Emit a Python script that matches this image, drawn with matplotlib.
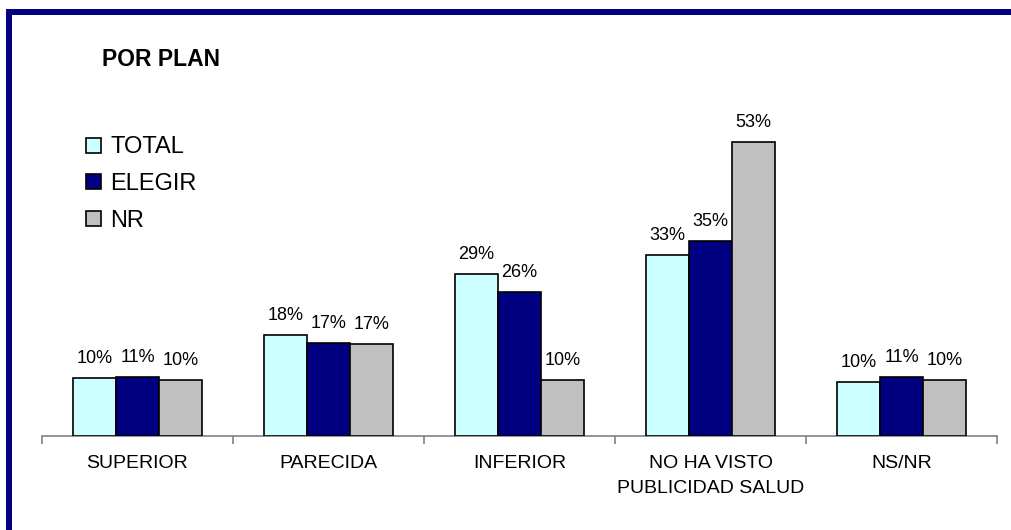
"""Gráfico de barras agrupadas — POR PLAN"""

import matplotlib
matplotlib.use('Agg')
import matplotlib.pyplot as plt
from matplotlib.patches import Rectangle
import numpy as np

plt.rcParams['font.family'] = ['Liberation Sans', 'DejaVu Sans']

categorias = ['SUPERIOR', 'PARECIDA', 'INFERIOR',
              'NO HA VISTO\nPUBLICIDAD SALUD', 'NS/NR']
series = ['TOTAL', 'ELEGIR', 'NR']
total = [10.4, 18.2, 29.2, 32.6, 9.7]
elegir = [10.6, 16.8, 25.9, 35.1, 10.6]
nr = [10.1, 16.6, 10.1, 53.0, 10.1]
colores = ['#CCFFFF', '#000080', '#C0C0C0']

fig = plt.figure(figsize=(10.11, 5.30), dpi=100)

# Marco azul (solo se ven los lados superior e izquierdo)
fig.patches.append(Rectangle((0.0089, -0.1), 1.2, 1.0765, transform=fig.transFigure,
                             fill=False, edgecolor='#000080', linewidth=4.3,
                             figure=fig))

ax = fig.add_axes([0.0415, 0.1774, 0.9447, 0.6283])

x = np.arange(len(categorias))
ancho = 0.225
for i, (nombre, vals) in enumerate(zip(series, [total, elegir, nr])):
    barras = ax.bar(x + (i - 1) * ancho, vals, ancho, color=colores[i],
                    edgecolor='black', linewidth=1.2, label=nombre, zorder=3)
    for b, v in zip(barras, vals):
        ax.annotate(f'{round(v)}%', (b.get_x() + b.get_width() / 2, v),
                    textcoords='offset points', xytext=(0, 8),
                    ha='center', va='bottom', fontsize=13)

ax.set_xlim(-0.5, len(categorias) - 0.5)
ax.set_ylim(0, 60)
for lado in ['top', 'right', 'left']:
    ax.spines[lado].set_visible(False)
ax.spines['bottom'].set_color('#808080')
ax.spines['bottom'].set_linewidth(1.2)
ax.set_yticks([])
ax.set_xticks(np.arange(len(categorias) + 1) - 0.5, minor=False)
ax.set_xticklabels([])
ax.tick_params(axis='x', length=6, color='#808080', width=1.2)
ax.set_xticks(x, minor=True)
ax.set_xticklabels(categorias, minor=True, fontsize=14, linespacing=1.55)
ax.tick_params(axis='x', which='minor', length=0, pad=14)

fig.text(0.101, 0.887, 'POR PLAN', fontsize=16.5, fontweight='bold',
         va='center', ha='left')

ax.legend(loc='upper left', bbox_to_anchor=(0.0785, 0.756),
          bbox_transform=fig.transFigure, frameon=False, fontsize=17,
          handlelength=0.6, handleheight=0.6, handletextpad=0.4,
          labelspacing=0.62, borderaxespad=0, borderpad=0.3)

fig.savefig('out.png', dpi=100)
